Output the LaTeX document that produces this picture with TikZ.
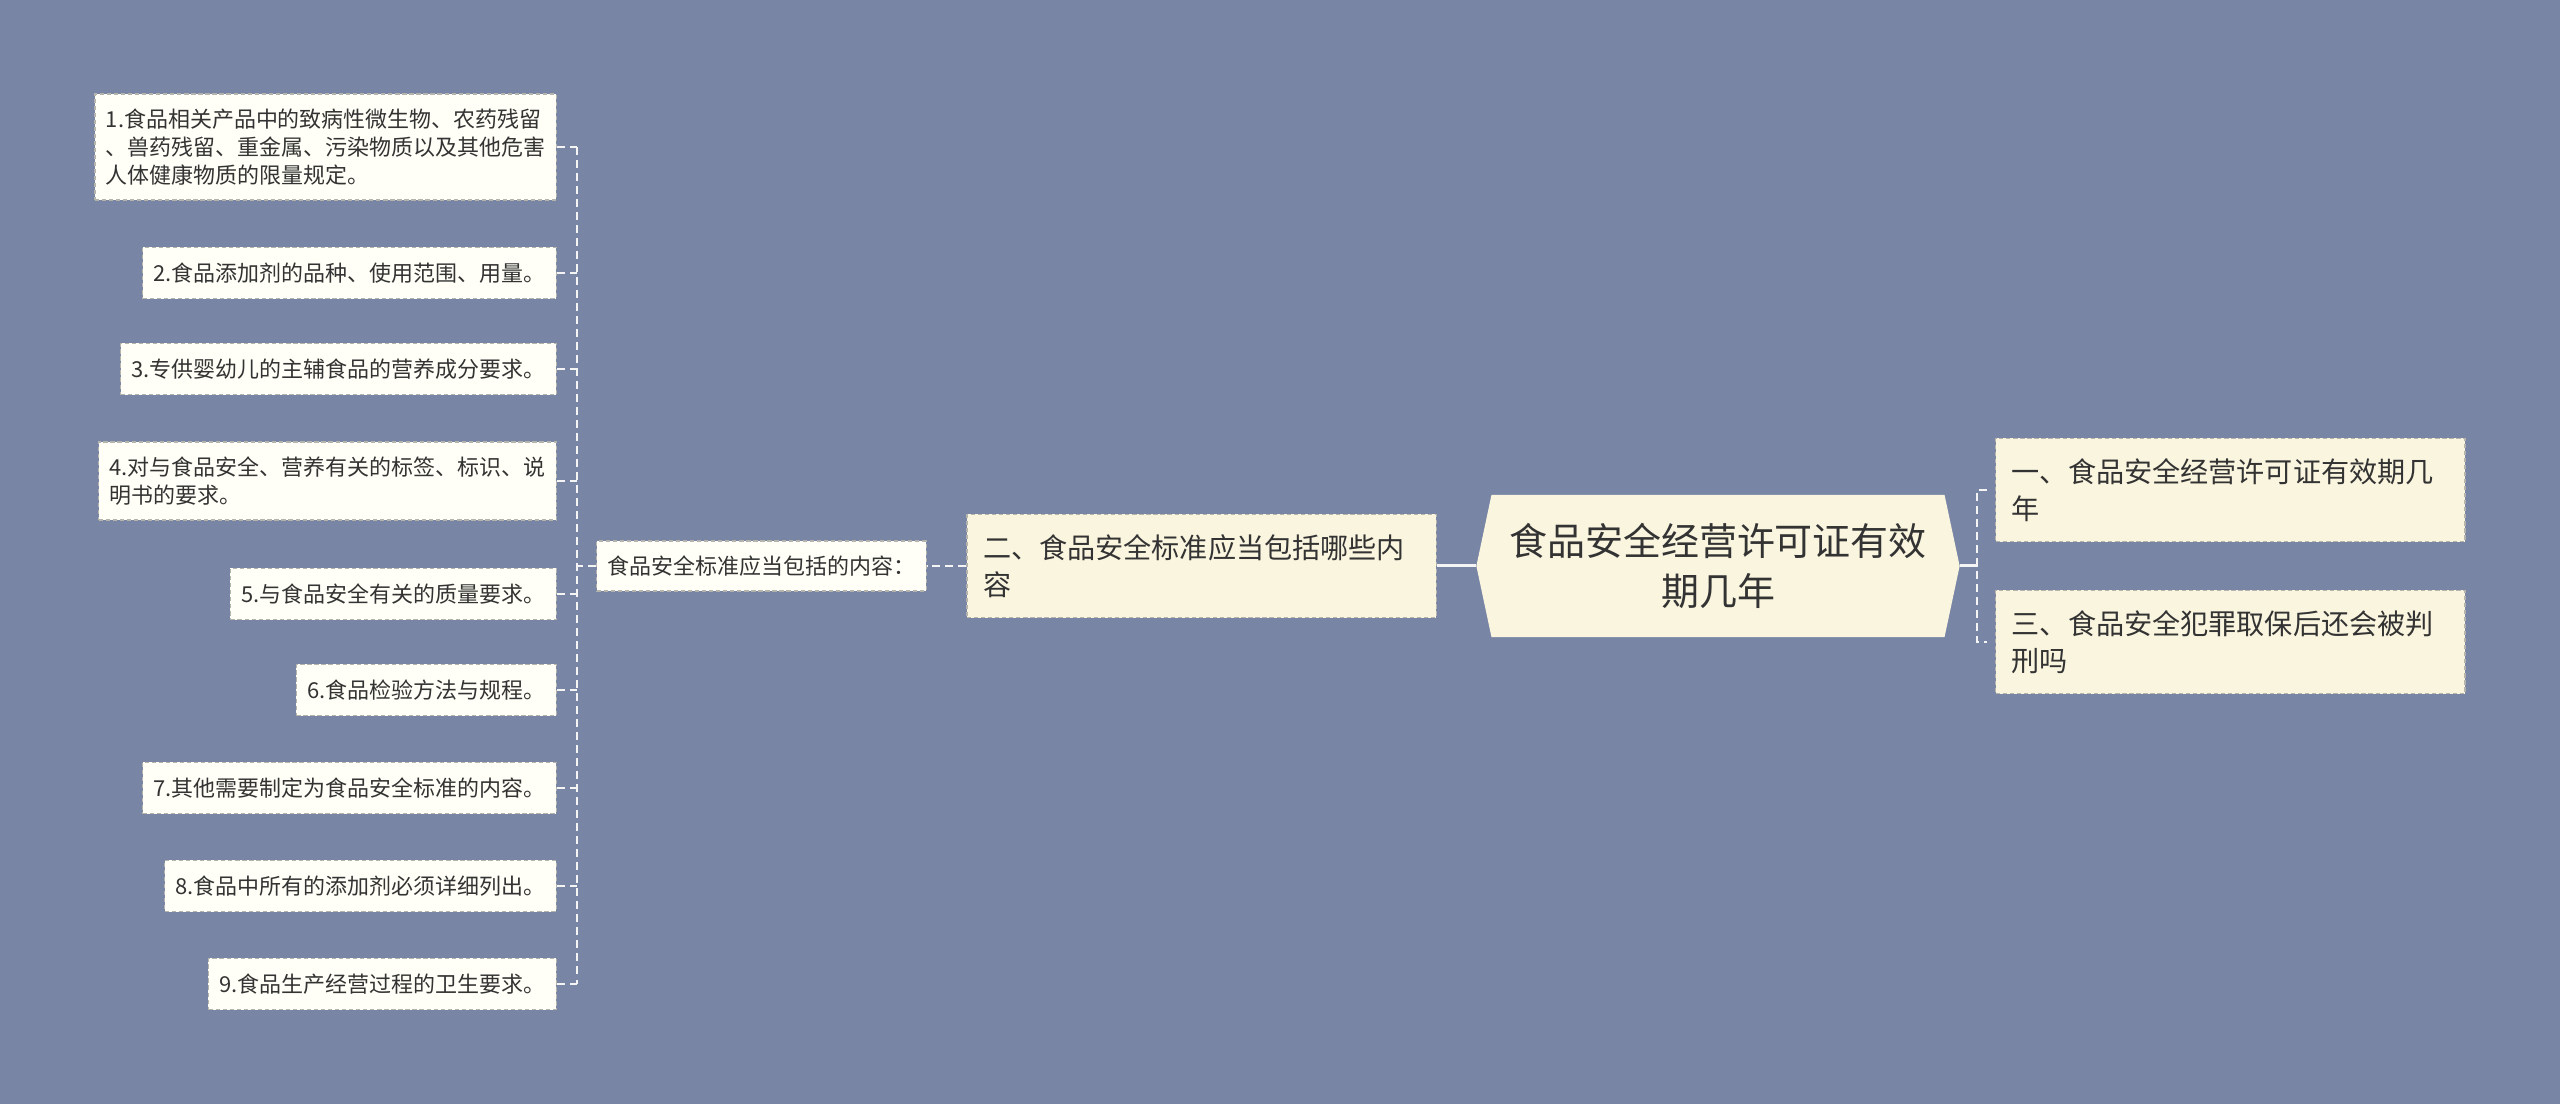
\documentclass[tikz,border=0pt]{standalone}
\usepackage{fontspec}
\setmainfont{Noto Sans CJK SC}
\usepackage{tikz}
\usetikzlibrary{positioning,shapes.symbols}

\definecolor{bgblue}{HTML}{7885A5}
\definecolor{cream}{HTML}{FAF5DF}
\definecolor{leafwhite}{HTML}{FFFFF7}
\definecolor{boxline}{HTML}{B4B4AC}
\definecolor{ink}{HTML}{333333}
\definecolor{linkwhite}{HTML}{F4F4F4}

\tikzset{
	leaf/.style={draw=boxline, dash pattern=on 1.2pt off 0.8pt, fill=leafwhite, text=ink,
		align=left, anchor=east, inner xsep=3.1pt, inner ysep=4.2pt, minimum height=0.51cm,
		font=\fontsize{6.25pt}{8pt}\selectfont},
	topic/.style={draw=boxline, dash pattern=on 1.2pt off 0.8pt, fill=cream, text=ink,
		align=left, text width=4.37cm, inner xsep=0.16cm, minimum height=1.03cm,
		font=\fontsize{8pt}{10.7pt}\selectfont},
	rootnode/.style={signal, signal to=west and east, signal pointer angle=156, fill=cream,
		text=ink, align=center, minimum width=4.83cm, minimum height=1.42cm,
		font=\fontsize{10.8pt}{14pt}\selectfont},
	link/.style={draw=linkwhite, line width=0.65pt, dash pattern=on 0.08cm off 0.05cm},
	rootlink/.style={draw=linkwhite, line width=0.85pt}
}

\begin{document}
\begin{tikzpicture}[x=0.01cm, y=-0.01cm]
	\fill[bgblue] (0,0) rectangle (2560,1104);
	\useasboundingbox (0,0) rectangle (2560,1104);

	% centre and first level
	\node[rootnode] (root) at (1718,566) {食品安全经营许可证有效\\期几年};
	\node[topic, anchor=east] (std) at (1437,566) {二、食品安全标准应当包括哪些内\\容};
	\node[topic, anchor=west] (r1) at (1995,490) {一、食品安全经营许可证有效期几\\年};
	\node[topic, anchor=west] (r3) at (1995,642) {三、食品安全犯罪取保后还会被判\\刑吗};
	\node[leaf, anchor=east, minimum height=0.45cm, inner xsep=0.11cm] (sub) at (927,566) {食品安全标准应当包括的内容：};

	% the nine items
	\begin{scope}[every node/.style={leaf}]
		\node (l1) at (557,147) {1.食品相关产品中的致病性微生物、农药残留\\、兽药残留、重金属、污染物质以及其他危害\\人体健康物质的限量规定。};
		\node (l2) at (557,273) {2.食品添加剂的品种、使用范围、用量。};
		\node (l3) at (557,369) {3.专供婴幼儿的主辅食品的营养成分要求。};
		\node (l4) at (557,481) {4.对与食品安全、营养有关的标签、标识、说\\明书的要求。};
		\node (l5) at (557,594) {5.与食品安全有关的质量要求。};
		\node (l6) at (557,690) {6.食品检验方法与规程。};
		\node (l7) at (557,788) {7.其他需要制定为食品安全标准的内容。};
		\node (l8) at (557,886) {8.食品中所有的添加剂必须详细列出。};
		\node (l9) at (557,984) {9.食品生产经营过程的卫生要求。};
	\end{scope}

	\coordinate (lj) at (577,566);
	\coordinate (rj) at (1977,566);

	% connectors
	\draw[rootlink] (root.east) -- (rj);
	\draw[rootlink] (root.west) -- (std.east);
	\draw[link, shorten <=0.08cm] (r1.west) -| (rj) |- ([xshift=-0.08cm]r3.west);
	\draw[link] (std.west) -- (sub.east);
	\draw[link] (sub.west) -- (lj);
	\draw[link] (l1.east -| lj) -- (l9.east -| lj);
	\foreach \i in {1,...,9}
		\draw[link] (l\i.east) -- (l\i.east -| lj);
\end{tikzpicture}
\end{document}
